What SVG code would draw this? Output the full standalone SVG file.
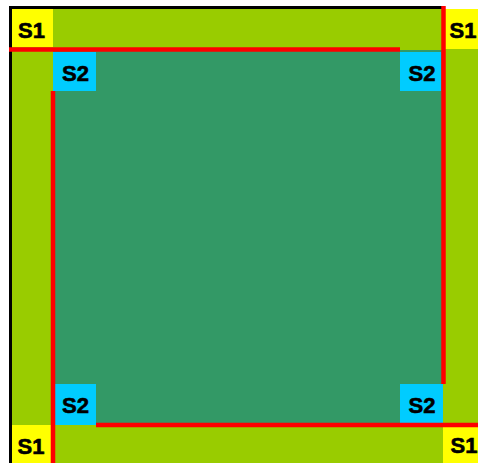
<svg xmlns="http://www.w3.org/2000/svg" width="478" height="463" viewBox="0 0 478 463">
<style>
.s1{fill:#FFFF00}
.s2{fill:#00CCFF}
.lbl{font-family:"Liberation Sans",Arial,sans-serif;font-weight:bold;font-size:22px;fill:#000;stroke:#000;stroke-width:0.6;text-anchor:middle}
.red{stroke:#FF0000;stroke-width:4.5;fill:none}
.blk{stroke:#000;stroke-width:3;fill:none}
</style>
<rect x="0" y="0" width="478" height="463" fill="#FFFFFF"/>
<rect id="outer" x="12" y="9" width="466" height="454" fill="#99CC00"/>
<rect id="inner" x="53" y="50" width="390" height="374" fill="#339966"/>
<g id="border">
<line class="blk" x1="9" y1="7.5" x2="442" y2="7.5"/>
<line class="blk" x1="10.5" y1="6" x2="10.5" y2="463"/>
</g>
<g id="n-s1-tl"><rect class="s1" x="12" y="9" width="41" height="38"/><text class="lbl" x="31.5" y="38">S1</text></g>
<g id="n-s1-tr"><rect class="s1" x="445" y="9" width="33" height="40"/><text class="lbl" x="463" y="38">S1</text></g>
<g id="n-s1-bl"><rect class="s1" x="12" y="425" width="39" height="38"/><text class="lbl" x="31" y="454">S1</text></g>
<g id="n-s1-br"><rect class="s1" x="443" y="427" width="35" height="36"/><text class="lbl" x="464" y="453">S1</text></g>
<g id="n-s2-tl"><rect class="s2" x="53" y="52" width="43" height="39"/><text class="lbl" x="75.5" y="80.5">S2</text></g>
<g id="n-s2-tr"><rect class="s2" x="400" y="52" width="41" height="39"/><text class="lbl" x="422" y="80.5">S2</text></g>
<g id="n-s2-bl"><rect class="s2" x="55" y="384" width="41" height="41"/><text class="lbl" x="75.5" y="413">S2</text></g>
<g id="n-s2-br"><rect class="s2" x="400" y="384" width="43" height="39"/><text class="lbl" x="422" y="412.5">S2</text></g>
<g id="connectors">
<line class="red" x1="9" y1="49.5" x2="400" y2="49.5"/>
<line class="red" x1="443.5" y1="6" x2="443.5" y2="384"/>
<line class="red" x1="96" y1="425" x2="478" y2="425"/>
<line class="red" x1="53" y1="91" x2="53" y2="463"/>
</g>
</svg>
